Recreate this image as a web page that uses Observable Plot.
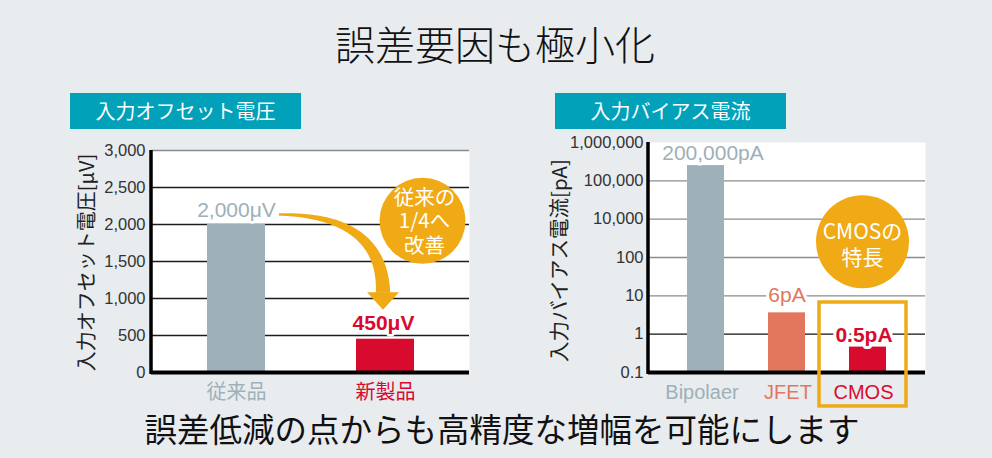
<!DOCTYPE html>
<html>
<head>
<meta charset="utf-8">
<script src="https://cdn.jsdelivr.net/npm/d3@7"></script>
<script src="https://cdn.jsdelivr.net/npm/@observablehq/plot@0.6"></script>
<style>
  html, body { margin: 0; padding: 0; background: #e8ecef; }
  #root { position: relative; width: 992px; height: 458px; overflow: hidden; background: #e8ecef;
          font-family: "Noto Sans CJK JP", sans-serif; }
  .abs { position: absolute; }
  .title { left: 0; width: 990px; top: 18px; text-align: center; font-size: 40px; line-height: 50px;
           font-weight: 300; color: #111; }
  .head { background: #00a1b9; color: #fff; font-size: 20px; height: 36px; line-height: 36px;
          text-align: center; width: 231px; top: 93px; }
  .foot { left: 0; width: 1004px; top: 406px; text-align: center; font-size: 32.5px; line-height: 44px;
          color: #111; }
  svg { overflow: visible; }
</style>
</head>
<body>
<div id="root"></div>
<script>
// ---------- data ----------
const titleText = "誤差要因も極小化";
const footerText = "誤差低減の点からも高精度な増幅を可能にします";

const offsetHeader = "入力オフセット電圧";
const offsetAxisLabel = "入力オフセット電圧[μV]";
const offsetCategories = ["従来品", "新製品"];
const offsetValues = [2000, 450];
const offsetLabels = ["2,000μV", "450μV"];
const offsetTicks = [0, 500, 1000, 1500, 2000, 2500, 3000];
const offsetNote = ["従来の", "1/4へ", "改善"];

const biasHeader = "入力バイアス電流";
const biasAxisLabel = "入力バイアス電流[pA]";
const biasCategories = ["Bipolaer", "JFET", "CMOS"];
const biasValues = [250000, 3.6, 0.46];
const biasLabels = ["200,000pA", "6pA", "0.5pA"];
const biasTicks = [0.1, 1, 10, 100, 10000, 100000, 1000000];
const biasTickLabels = ["0.1", "1", "10", "100", "10,000", "100,000", "1,000,000"];
const biasNote = ["CMOSの", "特長"];

// ---------- styles ----------
const ORANGE = "#f0aa16";
const offsetColors = ["#9eb0b8", "#d80b2f"];
const offsetBold = [false, true];
const biasColors = ["#9eb0b8", "#e2775d", "#d80b2f"];
const biasBold = [false, false, true];
const latin = '"Liberation Sans", "Noto Sans CJK JP", sans-serif';
const cjk = '"Noto Sans CJK JP", sans-serif';

const root = document.getElementById("root");
function div(cls, text, style) {
  const d = document.createElement("div");
  d.className = "abs " + cls;
  d.textContent = text;
  Object.assign(d.style, style || {});
  root.appendChild(d);
  return d;
}
div("title", titleText);
div("head", offsetHeader, {left: "70px"});
div("head", biasHeader, {left: "555px"});

// ---------- left chart ----------
const leftData = offsetCategories.map((c, i) => ({cat: c, value: offsetValues[i], label: offsetLabels[i], color: offsetColors[i], bold: offsetBold[i]}));
const LW = 420, LH = 275, LML = 91, LMR = 11, LMT = 15, LMB = 38;
const leftNoteAnchor = {cat: "新製品", v: 2050};
const leftNoteDy = [-23, 0, 25];
const left = Plot.plot({
  width: LW, height: LH, marginLeft: LML, marginRight: LMR, marginTop: LMT, marginBottom: LMB,
  style: {background: "transparent", fontFamily: latin, overflow: "visible"},
  x: {domain: offsetCategories, paddingInner: 0.612, paddingOuter: 0.37, axis: null},
  y: {domain: [0, 3000], axis: null},
  marks: [
    Plot.frame({fill: "white", stroke: "none"}),
    Plot.ruleY(offsetTicks.filter(d => d > 0), {y: d => d, stroke: d => d === 3000 ? "#8a8a8a" : "#1c1c1c", strokeWidth: 1.3}),
    Plot.barY(leftData, {x: "cat", y: "value", fill: "color"}),
    Plot.ruleY([0], {stroke: "#000", strokeWidth: 4}),
    Plot.text(offsetTicks, {y: d => d, text: d => d3.format(",")(d), frameAnchor: "left", textAnchor: "end", dx: -6, fill: "#333", fontSize: 16.5}),
    Plot.text([offsetAxisLabel], {frameAnchor: "left", textAnchor: "middle", rotate: -90, dx: -64, dy: 1, fill: "#222", fontSize: 20, fontFamily: cjk}),
    ...leftData.map((d, i) => Plot.text([d], {x: "cat", y: "value", text: "label", fill: "color", dy: i === 0 ? -14 : -16, dx: i === 0 ? 0 : -2,
      fontSize: 21, fontWeight: d.bold ? "bold" : "normal", stroke: "white", strokeWidth: 5})),
    ...leftData.map(d => Plot.text([d], {x: "cat", y: () => 0, text: "cat", fill: "color", dy: 20, fontSize: 20, fontFamily: cjk})),
    Plot.dot([leftNoteAnchor], {x: "cat", y: "v", r: 43, fill: ORANGE, stroke: "none", dx: 37}),
    ...offsetNote.map((line, i) => Plot.text([leftNoteAnchor], {x: "cat", y: "v", text: () => line, dx: 39, dy: 1 + leftNoteDy[i], fill: "white", fontSize: 20.5, fontFamily: cjk}))
  ]
});
left.style.position = "absolute";
left.style.left = "60px";
left.style.top = "135px";
root.appendChild(left);

// left axis line
d3.select(left).append("line")
  .attr("x1", LML).attr("x2", LML).attr("y1", LMT).attr("y2", LH - LMB + 2)
  .attr("stroke", "#000").attr("stroke-width", 3.5);

// curved tapered arrow, anchored on the chart's scales
(function () {
  const xs = left.scale("x"), ys = left.scale("y");
  const cx = c => xs.apply(c) + xs.bandwidth / 2;
  const P0 = [cx(offsetCategories[0]) + 43, ys.apply(offsetValues[0]) - 9.5];
  const P3 = [cx(offsetCategories[1]) - 2, ys.apply(offsetValues[1]) - 46];
  const tip = [P3[0], ys.apply(offsetValues[1]) - 29];
  const P1 = [P0[0] + 0.56 * (P3[0] - P0[0]), P0[1]];
  const P2 = [P3[0], P0[1] + 0.25 * (P3[1] - P0[1])];
  const B = t => {
    const u = 1 - t;
    return [u*u*u*P0[0] + 3*u*u*t*P1[0] + 3*u*t*t*P2[0] + t*t*t*P3[0],
            u*u*u*P0[1] + 3*u*u*t*P1[1] + 3*u*t*t*P2[1] + t*t*t*P3[1]];
  };
  const D = t => {
    const u = 1 - t;
    return [3*u*u*(P1[0]-P0[0]) + 6*u*t*(P2[0]-P1[0]) + 3*t*t*(P3[0]-P2[0]),
            3*u*u*(P1[1]-P0[1]) + 6*u*t*(P2[1]-P1[1]) + 3*t*t*(P3[1]-P2[1])];
  };
  const n = 60, sideA = [], sideB = [];
  for (let i = 0; i <= n; i++) {
    const t = i / n, p = B(t), d = D(t);
    const len = Math.hypot(d[0], d[1]) || 1;
    const nx = -d[1] / len, ny = d[0] / len;
    const w = 1.2 + 6 * Math.pow(t, 1.1);
    sideA.push([p[0] + nx * w, p[1] + ny * w]);
    sideB.push([p[0] - nx * w, p[1] - ny * w]);
  }
  const pts = sideA.concat(sideB.reverse());
  d3.select(left).append("path")
    .attr("d", "M" + pts.map(p => p.join(",")).join("L") + "Z")
    .attr("fill", ORANGE);
  d3.select(left).append("path")
    .attr("d", `M${P3[0]-16},${P3[1]-0.5}L${P3[0]+16},${P3[1]-0.5}L${tip[0]},${tip[1]}Z`)
    .attr("fill", ORANGE);
})();

// ---------- right chart ----------
const rightData = biasCategories.map((c, i) => ({cat: c, value: biasValues[i], label: biasLabels[i], color: biasColors[i], bold: biasBold[i]}));
const RW = 400, RH = 280, RML = 108, RMR = 15, RMT = 12, RMB = 38;
const labelDx = [7, 0, -4];
const labelDy = [-12, -18, -12];
const catDx = [-4, 1, -4.5];
const rightNoteAnchor = {cat: "CMOS", v: 668};
const rightNoteDy = [-9.5, 16.5];
const right = Plot.plot({
  width: RW, height: RH, marginLeft: RML, marginRight: RMR, marginTop: RMT, marginBottom: RMB,
  style: {background: "transparent", fontFamily: latin, overflow: "visible"},
  x: {domain: biasCategories, paddingInner: 0.543, paddingOuter: 0.48, axis: null},
  y: {type: "log", domain: biasTicks, axis: null},
  marks: [
    Plot.frame({fill: "white", stroke: "none"}),
    Plot.ruleY(biasTicks.filter(d => d > 0.1 && d < 1000000), {y: d => d, stroke: d => d === 1 ? "#111" : "#8c8c8c", strokeWidth: 1.3}),
    Plot.barY(rightData, {x: "cat", y1: 0.1, y2: "value", fill: "color"}),
    Plot.ruleY([0.1], {stroke: "#000", strokeWidth: 4}),
    Plot.text(biasTicks, {y: d => d, text: (d, i) => biasTickLabels[i], frameAnchor: "left", textAnchor: "end", dx: -5, fill: "#333", fontSize: 16.5}),
    Plot.text([biasAxisLabel], {frameAnchor: "left", textAnchor: "middle", rotate: -90, dx: -88, dy: 3, fill: "#222", fontSize: 20.5, fontFamily: cjk}),
    ...rightData.map((d, i) => Plot.text([d], {x: "cat", y: "value", text: "label", fill: "color", dx: labelDx[i], dy: labelDy[i],
      fontSize: 21, fontWeight: d.bold ? "bold" : "normal", stroke: "white", strokeWidth: 6})),
    ...rightData.map((d, i) => Plot.text([d], {x: "cat", y: () => 0.1, text: "cat", fill: "color", dx: catDx[i], dy: 20, fontSize: 20})),
    Plot.barY([{cat: "CMOS"}], {x: "cat", y1: 0.013, y2: 6.7, fill: "none", stroke: ORANGE, strokeWidth: 3.5, insetLeft: -30, insetRight: -20}),
    Plot.dot([rightNoteAnchor], {x: "cat", y: "v", r: 46.5, fill: ORANGE, stroke: "none", dx: -5.5}),
    ...biasNote.map((line, i) => Plot.text([rightNoteAnchor], {x: "cat", y: "v", text: () => line, dx: -5.5, dy: rightNoteDy[i], fill: "white", fontSize: 21, fontFamily: cjk}))
  ]
});
right.style.position = "absolute";
right.style.left = "540px";
right.style.top = "130px";
root.appendChild(right);
d3.select(right).append("line")
  .attr("x1", RML).attr("x2", RML).attr("y1", RMT).attr("y2", RH - RMB + 2)
  .attr("stroke", "#000").attr("stroke-width", 3.5);

div("foot", footerText);
</script>
</body>
</html>
